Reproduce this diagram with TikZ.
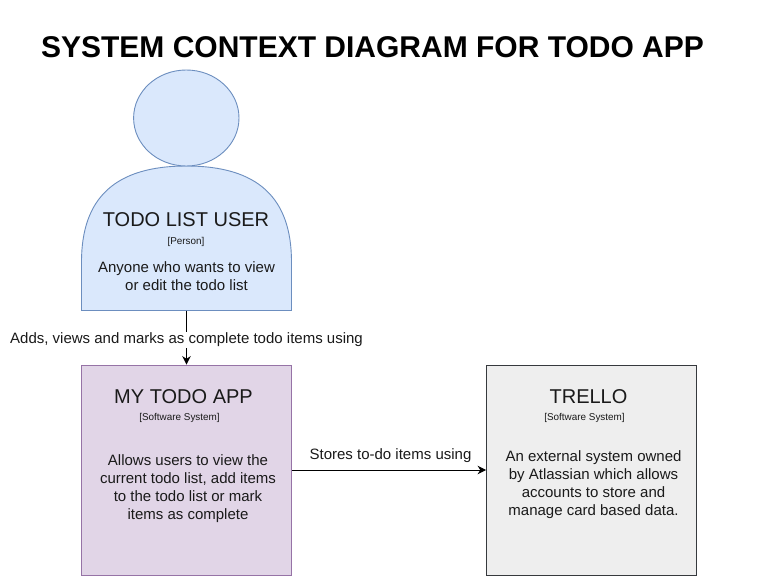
\documentclass[tikz,border=0pt]{standalone}
\usepackage{fontspec}
\setmainfont{Liberation Sans}
\usetikzlibrary{arrows.meta}
\definecolor{bluefill}{HTML}{DAE8FC}
\definecolor{blueline}{HTML}{6C8EBF}
\definecolor{purplefill}{HTML}{E1D5E7}
\definecolor{purpleline}{HTML}{9673A6}
\definecolor{greyfill}{HTML}{EEEEEE}
\definecolor{greyline}{HTML}{36393D}
\definecolor{inktext}{HTML}{1A1A1A}
\tikzset{
  x=1pt,y=-1pt,
  partshape/.style={line width=0.9pt},
  sysbox/.style={partshape,rectangle,minimum width=210pt,minimum height=210pt,inner sep=0pt},
  headtext/.style={font=\fontsize{20}{24}\selectfont,text=inktext,inner sep=0pt},
  tagtext/.style={font=\fontsize{9.9}{11}\selectfont,text=inktext,inner sep=0pt},
  bodytext/.style={font=\fontsize{15}{18}\selectfont,text=inktext,align=center,inner sep=0pt},
  linklabel/.style={font=\fontsize{15}{17}\selectfont,text=inktext,fill=white,inner sep=1.5pt},
  linkline/.style={line width=1pt,-{Stealth[length=8.5pt,width=8.5pt]}},
}
\begin{document}
\begin{tikzpicture}
\useasboundingbox (0,0) rectangle (767,586);
\fill[white] (0,0) rectangle (767,586);
\node[font=\bfseries\fontsize{30}{36}\selectfont,text=black,inner sep=0pt] (title) at (372.5,47.5) {SYSTEM CONTEXT DIAGRAM FOR TODO APP};
% person body and head
\draw[partshape,draw=blueline,fill=bluefill] (81.5,310.5) -- (81.5,262)
  .. controls (81.5,198) and (115,166) .. (186.5,166)
  .. controls (258,166) and (291.5,198) .. (291.5,262)
  -- (291.5,310.5) -- cycle;
\draw[partshape,draw=blueline,fill=bluefill] (186.3,118) ellipse [x radius=52.7, y radius=48];
\coordinate (userbottom) at (186.5,310.5);
\node[headtext] (usertitle) at (186,220) {TODO LIST USER};
\node[tagtext] (usertag) at (186,241.5) {[Person]};
\node[bodytext] (userbody) at (186.5,276) {Anyone who wants to view\\or edit the todo list};
% systems
\node[sysbox,draw=purpleline,fill=purplefill] (app) at (186.5,470) {};
\node[headtext] (apptitle) at (183.5,397) {MY TODO APP};
\node[tagtext] (apptag) at (179.5,418) {[Software System]};
\node[bodytext] (appbody) at (188,489) {Allows users to view the\\current todo list, add items\\to the todo list or mark\\items as complete};
\node[sysbox,draw=greyline,fill=greyfill] (trello) at (591.5,470) {};
\node[headtext] (trellotitle) at (588.5,397) {TRELLO};
\node[tagtext] (trellotag) at (584.5,418) {[Software System]};
\node[bodytext] (trellobody) at (593.5,485) {An external system owned\\by Atlassian which allows\\accounts to store and\\manage card based data.};
% connectors
\draw[linkline] (userbottom) -- (app.north);
\node[linklabel] (adds) at (186.5,340) {Adds, views and marks as complete todo items using};
\draw[linkline] (app.east) -- (trello.west);
\node[font=\fontsize{15}{17}\selectfont,text=inktext,inner sep=0pt] (stores) at (390.5,456) {Stores to-do items using};
\end{tikzpicture}
\end{document}
